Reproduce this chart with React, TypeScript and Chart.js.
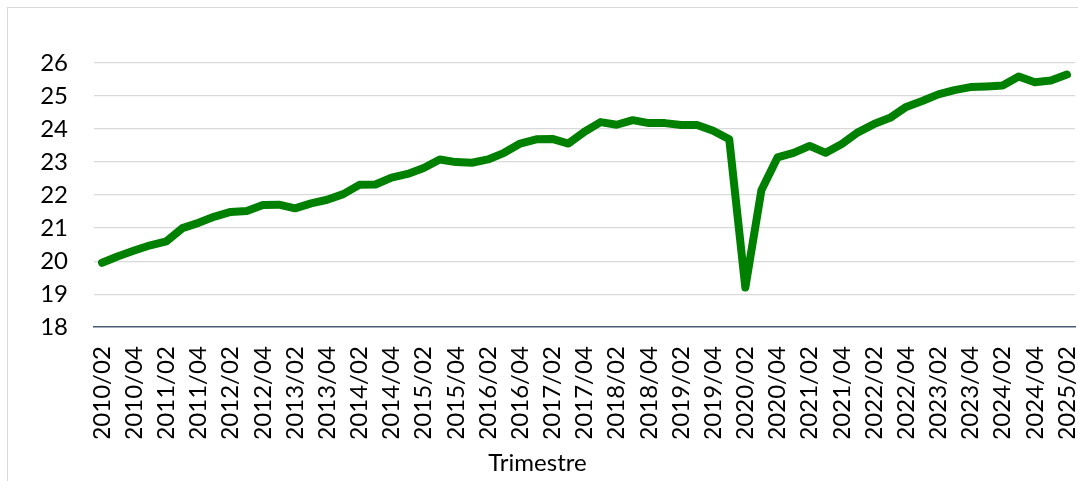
import React, { useEffect, useRef } from 'react';
import { Chart, registerables } from 'chart.js';

Chart.register(...registerables);

const QUARTERS: string[] = [
  '2010/02', '2010/03', '2010/04',
  '2011/01', '2011/02', '2011/03', '2011/04',
  '2012/01', '2012/02', '2012/03', '2012/04',
  '2013/01', '2013/02', '2013/03', '2013/04',
  '2014/01', '2014/02', '2014/03', '2014/04',
  '2015/01', '2015/02', '2015/03', '2015/04',
  '2016/01', '2016/02', '2016/03', '2016/04',
  '2017/01', '2017/02', '2017/03', '2017/04',
  '2018/01', '2018/02', '2018/03', '2018/04',
  '2019/01', '2019/02', '2019/03', '2019/04',
  '2020/01', '2020/02', '2020/03', '2020/04',
  '2021/01', '2021/02', '2021/03', '2021/04',
  '2022/01', '2022/02', '2022/03', '2022/04',
  '2023/01', '2023/02', '2023/03', '2023/04',
  '2024/01', '2024/02', '2024/03', '2024/04',
  '2025/01', '2025/02',
];

const SERIES: number[] = [
  19.95, 20.15, 20.32, 20.48, 20.6, 21.0, 21.16, 21.35, 21.49, 21.52,
  21.7, 21.71, 21.6, 21.75, 21.86, 22.03, 22.31, 22.32, 22.53, 22.64,
  22.82, 23.08, 23.0, 22.98, 23.08, 23.28, 23.56, 23.69, 23.7, 23.56,
  23.92, 24.21, 24.13, 24.27, 24.18, 24.18, 24.12, 24.12, 23.95, 23.69,
  19.2, 22.15, 23.14, 23.28, 23.49, 23.28, 23.55, 23.9, 24.15, 24.34,
  24.67, 24.85, 25.05, 25.18, 25.27, 25.29, 25.32, 25.59, 25.42, 25.47,
  25.65,
];

const Y_MIN = 18;
const Y_MAX = 26;
const Y_STEP = 1;
const X_TITLE = 'Trimestre';

const FONT = { family: 'Lato', size: 24, weight: 'normal' as const };

export default function App() {
  const ref = useRef<HTMLCanvasElement>(null);

  useEffect(() => {
    document.body.style.margin = '0';
    const chart = new Chart(ref.current as HTMLCanvasElement, {
      type: 'line',
      data: {
        labels: QUARTERS,
        datasets: [
          {
            data: SERIES,
            borderColor: '#008000',
            backgroundColor: '#008000',
            borderWidth: 8,
            borderCapStyle: 'round',
            borderJoinStyle: 'round',
            pointRadius: 0,
            pointHoverRadius: 0,
            tension: 0,
            fill: false,
          },
        ],
      },
      options: {
        animation: false,
        responsive: false,
        events: [],
        layout: { padding: { left: 0, right: 3, top: 63, bottom: 0 } },
        plugins: {
          legend: { display: false },
          tooltip: { enabled: false },
          title: {
            display: true,
            position: 'bottom',
            text: X_TITLE,
            font: FONT,
            color: '#000',
            padding: { top: 11, bottom: 3 },
          },
        },
        scales: {
          x: {
            offset: true,
            grid: { display: false, drawTicks: false },
            border: { display: true, color: '#4a5a75', width: 1.5 },
            ticks: {
              autoSkip: false,
              maxRotation: 90,
              minRotation: 90,
              padding: 19,
              color: '#000',
              font: FONT,
              callback: function (this: any, v: any, i: number) {
                return i % 2 === 0 ? this.getLabelForValue(v) : null;
              },
            },
            afterFit: (s: any) => {
              s.height = 111;
              s.paddingLeft = 0;
              s.paddingRight = 0;
            },
          },
          y: {
            min: Y_MIN,
            max: Y_MAX,
            ticks: { stepSize: Y_STEP, padding: 26, color: '#000', font: FONT },
            grid: {
              drawTicks: false,
              lineWidth: 1.3,
              color: (ctx: any) => (ctx.tick && ctx.tick.value === Y_MIN ? 'rgba(0,0,0,0)' : '#d9d9d9'),
            },
            border: { display: false },
            afterFit: (s: any) => {
              s.width = 94;
            },
          },
        },
      },
    });
    return () => chart.destroy();
  }, []);

  return (
    <div style={{ position: 'relative', width: 1078, height: 481, overflow: 'hidden', background: '#fff' }}>
      <div
        style={{
          position: 'absolute',
          left: 7,
          top: 7,
          right: 0,
          bottom: 0,
          borderLeft: '1px solid #d9d9d9',
          borderTop: '1px solid #d9d9d9',
        }}
      />
      <canvas ref={ref} width={1078} height={481} style={{ position: 'absolute', left: 0, top: 0 }} />
    </div>
  );
}
